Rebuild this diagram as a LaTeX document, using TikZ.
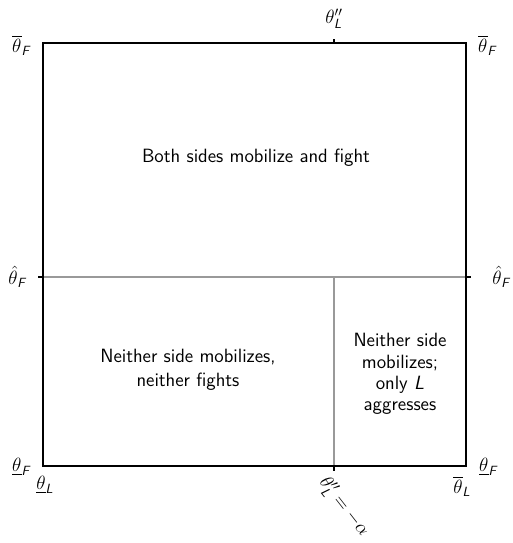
\documentclass[tikz,border=0pt]{standalone}
\usepackage{amsmath}
\usepackage{sansmath}
\newcommand{\iF}{\textsl{F}}
\newcommand{\iL}{\textsl{L}}
\tikzset{
  frame/.style={line width=1.6pt, black},
  divider/.style={line width=1.6pt, gray!80},
  tickmark/.style={line width=1.2pt, black},
  lbl/.style={inner sep=1pt, font=\Large\sffamily\sansmath},
  region/.style={align=center, font=\Large\sffamily\sansmath}
}
\begin{document}
\begin{tikzpicture}[x=0.75pt,y=-0.75pt]
\useasboundingbox (0,0) rectangle (513,543);
\coordinate (TL) at (43,43);
\coordinate (TR) at (466,43);
\coordinate (BL) at (43,466);
\coordinate (BR) at (466,466);
\coordinate (ML) at (43,277);
\coordinate (MR) at (466,277);
\coordinate (MM) at (334,277);
\coordinate (BM) at (334,466);
\coordinate (TM) at (334,43);
% dividers
\draw[divider] (ML) -- (MR);
\draw[divider] (MM) -- (BM);
% frame
\draw[frame] (TL) -- (TR) -- (BR) -- (BL) -- cycle;
% ticks
\draw[tickmark] (TM) -- ++(0,-4);
\draw[tickmark] (ML) -- ++(-5,0);
\draw[tickmark] (MR) -- ++(5,0);
\draw[tickmark] (BM) -- ++(0,5);
% labels
\node[lbl] (l1) at (21,45) {$\overline{\theta}_{\iF}$};
\node[lbl] (l2) at (487,45) {$\overline{\theta}_{\iF}$};
\node[lbl] (l3) at (334,19) {$\theta''_{\iL}$};
\node[lbl] (l4) at (17,277) {$\hat{\theta}_{\iF}$};
\node[lbl] (l5) at (501,277) {$\hat{\theta}_{\iF}$};
\node[lbl] (l6) at (21,467) {$\underline{\theta}_{\iF}$};
\node[lbl] (l7) at (45,485) {$\underline{\theta}_{\iL}$};
\node[lbl] (l8) at (488,467) {$\underline{\theta}_{\iF}$};
\node[lbl] (l9) at (462,486) {$\overline{\theta}_{\iL}$};
\node[lbl, rotate=-52] (l10) at (344,507) {$\theta''_{\iL} = -\alpha$};
% regions
\node[region] (r1) at (256,158) {Both sides mobilize and fight};
\node[region] (r2) at (188,370) {Neither side mobilizes,\\neither fights};
\node[region] (r3) at (400,374) {Neither side\\[-2pt]mobilizes;\\[-2pt]only $\iL$\\[-2pt]aggresses};
\end{tikzpicture}
\end{document}
